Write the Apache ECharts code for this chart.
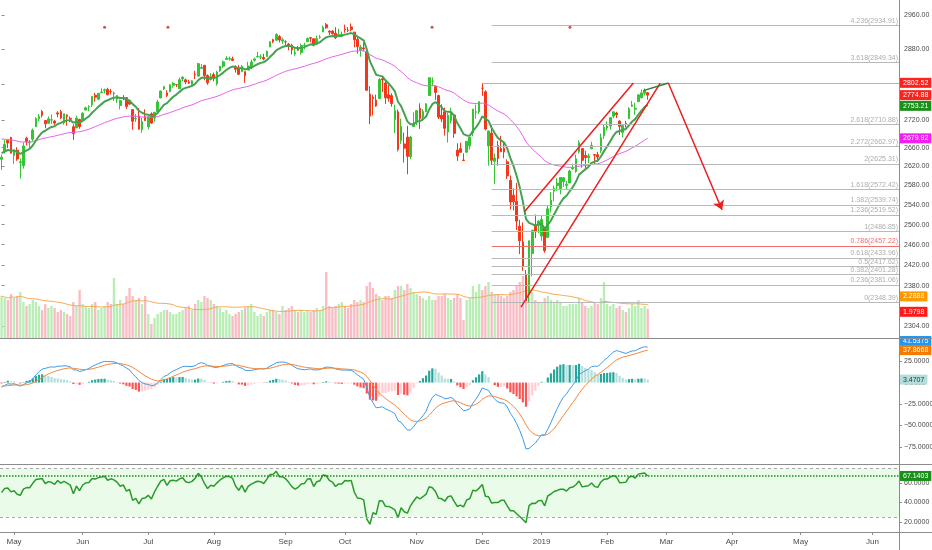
<!DOCTYPE html>
<html>
<head>
<meta charset="utf-8">
<script src="https://cdn.jsdelivr.net/npm/echarts@6/dist/echarts.min.js"></script>
<style>
  html, body { margin: 0; padding: 0; background: #ffffff; }
  #chart { width: 932px; height: 550px; }
</style>
</head>
<body>
<div id="chart"></div>
<script>
// ---- daily bars, [open, close, low, high] ----
const ohlc = [
  // Apr 2018
  [2634.9,2639.4,2612.7,2645.3],[2651.7,2666.9,2647.2,2676.5],[2675.5,2669.9,2659.0,2677.4],[2682.1,2648.1,2648.0,2682.9],
  // May
  [2643.0,2654.8,2625.4,2655.3],[2654.2,2635.7,2631.7,2660.9],[2628.1,2629.7,2594.6,2637.1],[2621.5,2663.4,2615.3,2670.9],
  [2680.3,2672.6,2664.7,2683.4],[2670.3,2671.9,2655.2,2676.3],[2678.1,2697.8,2674.1,2701.3],[2705.0,2723.1,2704.5,2726.1],
  [2722.7,2727.7,2717.5,2732.9],[2738.5,2730.1,2725.5,2742.1],[2718.6,2711.5,2701.9,2718.6],[2712.6,2722.5,2712.2,2727.8],
  [2719.7,2720.1,2711.4,2732.0],[2717.4,2713.0,2709.2,2719.5],[2735.4,2733.0,2725.7,2739.2],[2738.3,2724.4,2721.9,2742.2],
  [2714.0,2733.3,2709.5,2733.3],[2730.9,2727.8,2707.4,2732.0],[2723.6,2721.3,2715.0,2727.4],[2705.1,2689.9,2676.8,2710.7],
  [2702.4,2724.0,2702.4,2729.3],[2721.0,2705.3,2700.7,2722.5],
  // Jun
  [2718.7,2734.6,2718.7,2736.9],[2741.7,2746.9,2740.5,2749.2],[2748.5,2748.8,2739.5,2752.6],[2753.3,2772.4,2748.5,2772.4],
  [2774.8,2770.4,2760.2,2779.9],[2765.8,2779.0,2763.6,2779.4],[2780.2,2782.0,2780.2,2790.2],[2785.6,2786.9,2778.8,2789.8],
  [2787.9,2775.6,2774.7,2791.5],[2783.2,2782.5,2776.5,2789.1],[2777.8,2779.7,2761.7,2782.8],[2765.8,2773.8,2757.1,2775.0],
  [2752.0,2762.6,2743.2,2765.1],[2769.7,2767.3,2763.9,2774.9],[2769.3,2749.8,2744.4,2769.3],[2760.8,2754.9,2752.7,2764.2],
  [2742.9,2717.1,2698.7,2742.9],[2722.1,2723.1,2715.6,2732.9],[2728.5,2699.6,2699.4,2746.1],[2698.7,2716.3,2692.0,2724.3],
  [2727.1,2718.4,2718.0,2743.3],
  // Jul
  [2705.0,2726.7,2699.0,2727.3],[2733.3,2713.2,2711.2,2736.6],[2724.2,2736.6,2716.0,2737.8],[2737.7,2759.8,2733.5,2764.4],
  [2768.5,2784.2,2768.5,2784.7],[2788.6,2793.8,2786.2,2795.6],[2779.8,2774.0,2770.8,2785.9],[2783.1,2798.3,2781.5,2799.2],
  [2796.9,2801.3,2791.7,2804.5],[2798.4,2798.4,2793.2,2799.6],[2789.3,2809.6,2789.2,2814.2],[2811.4,2815.6,2805.9,2816.8],
  [2809.4,2804.5,2799.8,2812.1],[2804.6,2801.8,2800.0,2809.7],[2799.2,2807.0,2795.1,2808.6],[2820.7,2820.4,2811.1,2830.0],
  [2817.7,2846.1,2817.7,2848.0],[2835.5,2837.4,2835.3,2845.6],[2842.4,2818.8,2808.3,2843.2],[2819.0,2802.6,2798.1,2821.7],
  [2809.7,2816.3,2808.1,2824.5],
  // Aug
  [2821.2,2813.4,2805.9,2825.8],[2800.5,2827.2,2796.3,2829.9],[2829.6,2840.4,2827.4,2840.4],[2840.3,2850.4,2836.0,2853.3],
  [2855.9,2858.5,2855.9,2863.4],[2856.8,2857.7,2853.1,2862.4],[2857.2,2853.6,2852.0,2862.5],[2838.9,2833.3,2825.8,2842.2],
  [2835.5,2821.9,2819.9,2843.4],[2827.9,2840.0,2826.6,2843.1],[2828.0,2818.4,2802.5,2828.0],[2831.4,2840.7,2831.4,2850.5],
  [2838.3,2850.1,2833.7,2855.6],[2853.9,2857.1,2850.6,2859.8],[2861.5,2863.0,2861.3,2873.2],[2861.0,2861.8,2856.1,2867.5],
  [2860.3,2857.0,2854.0,2868.8],[2862.4,2874.7,2862.4,2876.2],[2884.7,2896.7,2884.7,2898.3],[2901.5,2897.5,2893.5,2903.8],
  [2900.6,2914.0,2898.4,2916.5],[2908.9,2901.1,2895.2,2912.5],[2898.4,2901.5,2891.7,2906.3],
  // Sep
  [2897.0,2896.7,2885.1,2900.2],[2891.6,2888.6,2876.9,2894.2],[2888.6,2878.1,2867.3,2892.1],[2868.3,2871.7,2864.1,2883.8],
  [2881.4,2877.1,2875.9,2886.9],[2871.6,2887.9,2866.8,2892.5],[2888.3,2888.9,2879.2,2894.7],[2896.9,2904.2,2896.4,2906.8],
  [2906.4,2905.0,2895.8,2908.3],[2903.8,2888.8,2886.2,2904.7],[2890.7,2904.3,2890.4,2911.2],[2906.6,2908.0,2903.8,2912.4],
  [2919.7,2930.8,2919.7,2934.8],[2936.8,2929.7,2927.1,2940.9],[2921.8,2919.4,2912.6,2923.8],[2921.8,2915.6,2913.7,2924.0],
  [2917.0,2906.0,2903.3,2931.2],[2911.7,2914.0,2909.3,2927.2],[2910.0,2914.0,2907.5,2920.5],
  // Oct
  [2926.3,2924.6,2917.9,2937.1],[2923.8,2923.4,2919.4,2931.4],[2931.7,2925.5,2921.4,2939.9],[2919.4,2901.6,2883.9,2919.8],
  [2902.5,2885.6,2869.3,2909.6],[2877.5,2884.4,2862.1,2889.5],[2882.5,2880.3,2874.3,2894.8],[2873.9,2785.7,2784.9,2874.0],
  [2776.9,2728.4,2710.5,2795.1],[2770.5,2767.1,2729.4,2775.8],[2763.8,2750.8,2749.0,2776.0],[2767.1,2809.9,2766.9,2813.5],
  [2811.7,2809.2,2781.8,2816.9],[2802.0,2768.8,2755.2,2806.0],[2775.7,2767.8,2760.3,2797.8],[2773.9,2755.9,2749.2,2778.9],
  [2721.0,2740.7,2691.4,2753.6],[2737.9,2656.1,2651.9,2742.6],[2674.9,2705.6,2667.8,2722.7],[2667.9,2658.7,2628.2,2692.4],
  [2682.7,2641.3,2603.5,2706.9],[2640.7,2682.6,2635.3,2685.4],[2705.6,2711.7,2705.6,2736.7],
  // Nov
  [2717.6,2740.4,2708.9,2741.7],[2745.5,2723.1,2700.4,2756.6],[2726.4,2738.3,2717.9,2744.3],[2738.4,2755.5,2737.1,2756.8],
  [2774.1,2813.9,2774.1,2815.2],[2806.4,2806.8,2795.0,2814.8],[2794.1,2781.0,2764.2,2794.1],[2773.9,2726.2,2722.0,2776.0],
  [2730.1,2722.2,2715.0,2754.6],[2737.9,2701.6,2685.8,2746.8],[2693.5,2730.2,2670.8,2735.4],[2718.5,2736.3,2712.2,2746.8],
  [2730.7,2690.7,2681.1,2733.2],[2654.6,2641.9,2631.5,2669.4],[2657.7,2649.9,2649.8,2670.7],[2633.4,2632.6,2631.1,2647.6],
  [2650.0,2673.5,2650.0,2674.4],[2663.8,2682.2,2655.9,2682.5],[2691.5,2743.8,2684.4,2744.0],[2737.0,2737.8,2722.9,2753.8],
  [2737.8,2760.2,2732.8,2760.9],
  // Dec
  [2790.5,2790.4,2773.4,2802.5],[2782.4,2700.1,2697.2,2785.9],[2663.5,2696.0,2621.5,2696.2],[2691.3,2633.1,2623.1,2708.5],
  [2630.9,2637.7,2583.2,2647.5],[2664.4,2636.8,2621.3,2674.4],[2658.2,2651.1,2650.3,2685.4],[2658.7,2650.5,2637.3,2670.2],
  [2629.7,2600.0,2593.8,2635.1],[2590.8,2545.9,2530.5,2601.1],[2559.9,2546.2,2528.7,2574.0],[2547.1,2507.0,2489.0,2585.3],
  [2496.8,2467.4,2441.2,2509.6],[2465.4,2416.6,2408.6,2504.4],[2400.6,2351.1,2351.1,2410.3],[2363.1,2467.7,2348.4,2467.8],
  [2442.5,2488.8,2397.9,2489.1],[2498.8,2485.7,2472.9,2520.3],[2498.9,2506.9,2482.8,2509.2],
  // Jan 2019
  [2477.0,2510.0,2467.5,2519.5],[2491.9,2447.9,2444.0,2493.1],[2474.3,2531.9,2474.3,2538.1],[2535.6,2549.7,2524.6,2566.2],
  [2568.1,2574.4,2547.6,2579.8],[2580.0,2585.0,2568.9,2595.3],[2573.5,2596.6,2562.0,2597.8],[2588.1,2596.3,2577.4,2596.3],
  [2580.3,2582.6,2570.4,2589.3],[2585.1,2610.3,2585.1,2613.1],[2614.8,2616.1,2612.7,2625.8],[2609.3,2636.0,2606.4,2645.1],
  [2651.3,2670.7,2647.6,2675.5],[2657.9,2632.9,2617.3,2657.9],[2643.5,2638.7,2612.9,2653.2],[2638.8,2642.3,2627.0,2647.2],
  [2657.4,2664.8,2657.3,2672.4],[2645.0,2643.9,2624.1,2645.0],[2644.9,2640.0,2631.1,2650.9],[2653.6,2681.1,2648.3,2690.4],
  [2685.5,2704.1,2678.7,2709.0],
  // Feb
  [2702.3,2706.5,2696.9,2716.7],[2706.5,2724.9,2698.8,2725.0],[2728.3,2737.7,2724.0,2739.0],[2735.1,2731.6,2724.2,2738.1],
  [2717.5,2706.1,2687.3,2719.3],[2692.4,2707.9,2681.8,2708.1],[2712.4,2709.8,2703.8,2718.1],[2722.6,2744.7,2722.6,2748.2],
  [2750.3,2753.0,2748.6,2761.9],[2743.5,2745.7,2731.2,2757.9],[2760.2,2775.6,2760.2,2775.7],[2769.3,2779.8,2767.3,2787.3],
  [2779.1,2784.7,2774.1,2789.9],[2780.2,2774.9,2764.6,2781.6]
];

// volume, billions
const volume = [
  2.30,2.25,2.20,2.35,
  2.25,2.30,2.40,2.15,2.05,2.10,2.20,2.15,2.05,1.95,2.10,2.00,2.05,2.00,1.90,1.95,1.90,1.85,1.80,2.15,2.05,2.45,
  2.10,2.05,2.00,2.10,2.15,1.95,2.00,2.05,2.15,2.10,2.75,2.10,2.20,2.10,2.30,2.50,2.30,2.20,2.25,2.10,2.30,
  1.85,1.60,1.75,1.85,1.90,1.95,1.95,1.90,1.85,1.85,1.90,1.95,2.00,2.05,1.95,2.10,2.20,2.15,2.30,2.25,2.20,
  2.10,2.05,2.00,1.90,1.95,1.85,1.80,1.85,1.90,1.95,2.00,2.05,2.10,1.90,1.80,1.85,1.80,1.90,1.95,1.95,1.90,1.85,2.05,
  1.95,2.00,2.05,1.95,1.90,1.95,1.90,1.95,1.90,1.95,2.00,1.95,2.05,2.90,2.05,2.00,2.05,2.10,2.15,
  2.05,2.00,2.10,2.20,2.15,2.20,2.15,2.55,2.65,2.50,2.35,2.30,2.20,2.30,2.30,2.25,2.45,2.55,2.55,2.45,2.60,2.50,2.40,
  2.35,2.30,2.25,2.20,2.30,2.20,2.20,2.30,2.30,2.35,2.25,2.20,2.25,2.35,2.25,1.70,2.20,2.25,2.55,2.40,2.60,
  2.45,2.55,2.65,2.40,2.35,2.35,2.30,2.25,2.30,2.40,2.45,2.55,2.65,2.80,2.20,2.45,2.40,2.20,2.15,
  2.15,2.25,2.30,2.20,2.15,2.20,2.15,2.05,2.05,2.10,2.10,2.10,2.25,2.15,2.05,2.00,2.05,2.15,2.10,2.25,2.65,
  2.10,2.05,2.10,2.00,2.05,1.95,1.90,2.00,2.10,2.05,2.20,2.00,2.05,1.98
];

// indicator starting states
const seeds = { ema10: 2650, ema50: 2680, ema12: 2648, ema26: 2653, signal: -4, rsiGain: 11, rsiLoss: 11 };

// calendar
const holidays = ['2018-05-28','2018-07-04','2018-09-03','2018-11-22','2018-12-05','2018-12-25','2019-01-01','2019-01-21','2019-02-18'];
const slotCount = 288;
const monthNames = ['Jan','Feb','Mar','Apr','May','Jun','Jul','Aug','Sep','Oct','Nov','Dec'];

// price scale ticks and drawings
const priceTicks = [2304,2380,2420,2460,2500,2540,2580,2620,2660,2720,2800,2880,2960];
const macdTicks = [-75,-50,-25,0,25];
const rsiTicks = [20,40,60];
const fibRatios = ['4.236','3.618','2.618','2.272','2','1.618','1.382','1.236','1','0.786','0.618','0.5','0.382','0.236','0'];
const fibPrices = [2934.91,2849.34,2710.88,2662.97,2625.31,2572.42,2539.74,2519.52,2486.85,2457.22,2433.96,2417.62,2401.28,2381.06,2348.39];
const fibStart = 157;
const resistance = { price: 2802.52, start: 154 };
const channelUpper = [[167.5, 2526], [202.4, 2802]];
const channelLower = [[166.4, 2339], [211, 2802]];
const projectionTop = [[205.6, 2785], [213.6, 2802]];
const projectionArrow = [[213.6, 2802], [230.8, 2530]];
const signalDots = [[33, 2931], [53.3, 2931], [137.9, 2931], [182.1, 2931]];

// ---- build calendar ----
const dates = [];
const d = new Date(Date.UTC(2018, 3, 25));
while (dates.length < slotCount) {
  const s = d.toISOString().slice(0, 10);
  const dow = d.getUTCDay();
  if (dow !== 0 && dow !== 6 && holidays.indexOf(s) < 0) dates.push(s);
  d.setUTCDate(d.getUTCDate() + 1);
}
const monthLabel = dates.map((s, i) => {
  if (i === 0 || s.slice(5, 7) === dates[i - 1].slice(5, 7)) return '';
  const m = +s.slice(5, 7) - 1;
  return m === 0 ? s.slice(0, 4) : monthNames[m];
});
const showMonth = (i) => monthLabel[i] !== '';

// ---- indicators from the bars ----
const closes = ohlc.map(r => r[1]);
function emaFrom(values, period, seed) {
  const k = 2 / (period + 1);
  let prev = seed;
  return values.map(v => { prev = prev + k * (v - prev); return +prev.toFixed(2); });
}
const ema10 = emaFrom(closes, 10, seeds.ema10);
const ema50 = emaFrom(closes, 50, seeds.ema50);
const ema12 = emaFrom(closes, 12, seeds.ema12);
const ema26 = emaFrom(closes, 26, seeds.ema26);
const macd = ema12.map((v, i) => +(v - ema26[i]).toFixed(3));
const signal = emaFrom(macd, 9, seeds.signal);
const hist = macd.map((v, i) => +(v - signal[i]).toFixed(3));
const histData = hist.map((h, i) => {
  const prev = i > 0 ? hist[i - 1] : h;
  let c;
  if (h >= 0) c = h >= prev ? '#26a69a' : '#b2dfdb';
  else c = h <= prev ? '#ff5252' : '#ffcdd2';
  return { value: h, itemStyle: { color: c } };
});
let ag = seeds.rsiGain, al = seeds.rsiLoss;
const rsi = closes.map((v, i) => {
  if (i > 0) {
    const ch = v - closes[i - 1];
    ag = (ag * 13 + Math.max(ch, 0)) / 14;
    al = (al * 13 + Math.max(-ch, 0)) / 14;
  }
  return +(100 - 100 / (1 + ag / al)).toFixed(2);
});
const volData = volume.map((v, i) => ({
  value: v,
  itemStyle: { color: ohlc[i][1] >= ohlc[i][0] ? '#b8eeb4' : '#f8bcc4' }
}));
const volMA = volume.map((v, i) => {
  const from = Math.max(0, i - 19);
  const win = volume.slice(from, i + 1);
  return +(win.reduce((a, b) => a + b, 0) / win.length).toFixed(4);
});

// ---- chart ----
const font = 'Liberation Sans, Arial, sans-serif';
const axisGray = '#8c8c8c';
const labelGray = '#4a4a4a';
const N = dates.length;

function tagLabel(text, bg, fg, offsetY) {
  return {
    show: true, position: 'end', formatter: text, distance: 1,
    backgroundColor: bg, color: fg || '#ffffff', fontSize: 7, fontFamily: font,
    padding: [2, 3, 1, 3], offset: [0, offsetY || 0]
  };
}
function hiddenLine(value, label) {
  return { yAxis: value, lineStyle: { color: 'rgba(0,0,0,0)', width: 0 }, label: label };
}
function segment(pts, color, width, endSymbol) {
  return [
    { coord: pts[0], symbol: 'none', lineStyle: { color: color, width: width, type: 'solid' }, label: { show: false } },
    { coord: pts[1], symbol: endSymbol || 'none', symbolSize: 9 }
  ];
}

const drawLines = [];
fibPrices.forEach((p, i) => {
  const red = fibRatios[i] === '0.786';
  drawLines.push([
    { coord: [fibStart, p], symbol: 'none',
      lineStyle: { color: red ? '#ef6f6f' : '#b9b9b9', width: 1, type: 'solid' },
      label: { show: true, position: 'insideEndTop', formatter: fibRatios[i] + '(' + p.toFixed(2) + ')',
               color: red ? '#ef6f6f' : '#adadad', fontSize: 7, fontFamily: font, distance: 1 } },
    { coord: [N - 0.5, p], symbol: 'none' }
  ]);
});
drawLines.push([
  { coord: [resistance.start, resistance.price], symbol: 'none',
    lineStyle: { color: '#f29a9a', width: 1, type: 'solid' },
    label: tagLabel(resistance.price.toFixed(2), '#f7251e') },
  { coord: [N - 0.5, resistance.price], symbol: 'none' }
]);
drawLines.push(segment(channelUpper, '#ee1c1c', 1.5));
drawLines.push(segment(channelLower, '#ee1c1c', 1.5));
drawLines.push(segment(projectionTop, '#2e7d32', 1.5));
drawLines.push(segment(projectionArrow, '#ee1c1c', 1.5, 'arrow'));
drawLines.push(hiddenLine(2774.88, tagLabel('2774.88', '#f7251e')));
drawLines.push(hiddenLine(2753.21, tagLabel('2753.21', '#1b8f1b', '#ffffff', 1)));
drawLines.push(hiddenLine(2679.92, tagLabel('2679.92', '#f21ef2')));

const option = {
  animation: false,
  backgroundColor: '#ffffff',
  textStyle: { fontFamily: font },
  grid: [
    { left: 0, right: 33, top: 0, height: 338, outerBoundsMode: 'none' },
    { left: 0, right: 33, top: 238, height: 100, outerBoundsMode: 'none' },
    { left: 0, right: 33, top: 338, height: 126, outerBoundsMode: 'none' },
    { left: 0, right: 33, top: 464, height: 68, outerBoundsMode: 'none' }
  ],
  xAxis: [
    { type: 'category', gridIndex: 0, data: dates, show: false },
    { type: 'value', gridIndex: 0, min: -0.5, max: N - 0.5, show: false },
    { type: 'category', gridIndex: 1, data: dates, show: false },
    { type: 'category', gridIndex: 2, data: dates, show: false },
    { type: 'category', gridIndex: 3, data: dates,
      axisLine: { show: false },
      axisTick: { show: true, interval: showMonth, alignWithLabel: true, length: 3, lineStyle: { color: axisGray } },
      axisLabel: { interval: showMonth, formatter: (v, i) => monthLabel[i], fontSize: 8, color: labelGray, margin: 6, fontFamily: font },
      splitLine: { show: false } },
    { type: 'value', gridIndex: 1, min: -0.5, max: N - 0.5, show: false }
  ],
  yAxis: [
    { type: 'log', gridIndex: 0, position: 'right', min: 2281.6, max: 2996,
      axisLine: { show: false },
      axisTick: { show: true, length: 3, customValues: priceTicks, lineStyle: { color: axisGray } },
      axisLabel: { customValues: priceTicks, formatter: v => Number(v).toFixed(2), fontSize: 7, color: labelGray, margin: 5, fontFamily: font },
      splitLine: { show: false } },
    { type: 'value', gridIndex: 1, min: 1.25, max: 3.75, show: false, splitLine: { show: false } },
    { type: 'value', gridIndex: 2, position: 'right', min: -95, max: 52,
      axisLine: { show: false },
      axisTick: { show: true, length: 3, customValues: macdTicks, lineStyle: { color: axisGray } },
      axisLabel: { customValues: macdTicks, formatter: v => (v < 0 ? '\u2212' : '') + Math.abs(v).toFixed(4), fontSize: 7, color: labelGray, margin: 5, fontFamily: font },
      splitLine: { show: false } },
    { type: 'value', gridIndex: 3, position: 'right', min: 9.7, max: 79.4,
      axisLine: { show: false },
      axisTick: { show: true, length: 3, customValues: rsiTicks, lineStyle: { color: axisGray } },
      axisLabel: { customValues: rsiTicks, formatter: v => Number(v).toFixed(4), fontSize: 7, color: labelGray, margin: 5, fontFamily: font },
      splitLine: { show: false } }
  ],
  graphic: [
    { type: 'line', shape: { x1: 0, y1: 338.5, x2: 932, y2: 338.5 }, style: { stroke: axisGray, lineWidth: 1 }, z: 50 },
    { type: 'line', shape: { x1: 0, y1: 464.5, x2: 932, y2: 464.5 }, style: { stroke: axisGray, lineWidth: 1 }, z: 50 },
    { type: 'line', shape: { x1: 0, y1: 532.5, x2: 932, y2: 532.5 }, style: { stroke: axisGray, lineWidth: 1 }, z: 50 },
    { type: 'line', shape: { x1: 899.5, y1: 0, x2: 899.5, y2: 550 }, style: { stroke: axisGray, lineWidth: 1 }, z: 50 }
  ],
  series: [
    { name: 'Volume', type: 'bar', xAxisIndex: 2, yAxisIndex: 1, data: volData, barWidth: '75%', z: 1 },
    { name: 'Vol MA', type: 'line', xAxisIndex: 2, yAxisIndex: 1, data: volMA, showSymbol: false, symbol: 'none',
      lineStyle: { color: '#f8aa55', width: 1 }, z: 2 },
    { name: 'Vol tags', type: 'line', xAxisIndex: 5, yAxisIndex: 1, data: [], clip: false, z: 6,
      markLine: { silent: true, symbol: 'none', data: [
        hiddenLine(2.2888, tagLabel('2.2888', '#ff9800')),
        hiddenLine(1.9798, tagLabel('1.9798', '#ff1a1a', '#ffffff', 3))
      ] } },
    { name: 'Price', type: 'candlestick', xAxisIndex: 0, yAxisIndex: 0, data: ohlc, barWidth: '70%', z: 3,
      itemStyle: { color: '#33c533', color0: '#f2371b', borderColor: '#33c533', borderColor0: '#f2371b', borderWidth: 1 } },
    { name: 'EMA50', type: 'line', xAxisIndex: 0, yAxisIndex: 0, data: ema50, showSymbol: false, symbol: 'none',
      lineStyle: { color: '#ec5fec', width: 1 }, z: 4 },
    { name: 'EMA10', type: 'line', xAxisIndex: 0, yAxisIndex: 0, data: ema10, showSymbol: false, symbol: 'none',
      lineStyle: { color: '#46a150', width: 2 }, z: 4 },
    { name: 'Drawings', type: 'line', xAxisIndex: 1, yAxisIndex: 0, data: [], clip: false, z: 5,
      markLine: { silent: true, symbol: ['none', 'none'], animation: false, data: drawLines } },
    { name: 'Signals', type: 'scatter', xAxisIndex: 1, yAxisIndex: 0, data: signalDots, symbol: 'circle', symbolSize: 3,
      itemStyle: { color: '#c62828' }, z: 5 },
    { name: 'Histogram', type: 'bar', xAxisIndex: 3, yAxisIndex: 2, data: histData, barWidth: '70%', z: 2 },
    { name: 'MACD', type: 'line', xAxisIndex: 3, yAxisIndex: 2, data: macd, showSymbol: false, symbol: 'none',
      lineStyle: { color: '#3d9be9', width: 1 }, z: 3 },
    { name: 'Signal', type: 'line', xAxisIndex: 3, yAxisIndex: 2, data: signal, showSymbol: false, symbol: 'none',
      lineStyle: { color: '#f5883a', width: 1 }, z: 3, clip: false,
      markLine: { silent: true, symbol: 'none', data: [
        hiddenLine(41.5375, tagLabel('41.5375', '#2196f3', '#ffffff', -6)),
        hiddenLine(37.8668, tagLabel('37.8668', '#f57c00')),
        hiddenLine(3.4707, tagLabel('3.4707', '#b2dfdb', '#333333'))
      ] } },
    { name: 'RSI', type: 'line', xAxisIndex: 4, yAxisIndex: 3, data: rsi, showSymbol: false, symbol: 'none',
      lineStyle: { color: '#2a9a2a', width: 1.5 }, z: 3, clip: false,
      markArea: { silent: true, itemStyle: { color: 'rgba(60,220,60,0.11)' }, data: [[{ yAxis: 75 }, { yAxis: 25 }]] },
      markLine: { silent: true, symbol: 'none', data: [
        { yAxis: 75, lineStyle: { color: '#a8a8a8', type: [3, 3], width: 1 }, label: { show: false } },
        { yAxis: 25, lineStyle: { color: '#a8a8a8', type: [3, 3], width: 1 }, label: { show: false } },
        { yAxis: 67.1403, lineStyle: { color: '#138a13', type: 'dotted', width: 1.5 }, label: tagLabel('67.1403', '#1b8f1b') }
      ] } }
  ]
};

const chart = echarts.init(document.getElementById('chart'));
chart.setOption(option);
</script>
</body>
</html>
